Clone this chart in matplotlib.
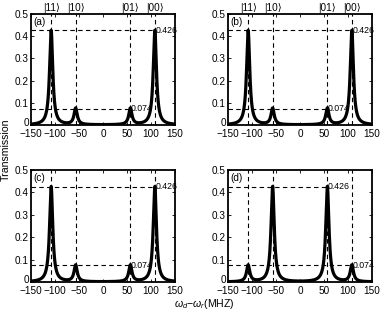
import numpy as np
import matplotlib
matplotlib.use("Agg")
import matplotlib.pyplot as plt
import matplotlib.transforms as mtransforms

plt.rcParams['font.family'] = ['Liberation Sans', 'DejaVu Sans']
plt.rcParams['mathtext.fontset'] = 'custom'
plt.rcParams['mathtext.it'] = 'Liberation Sans:italic'
plt.rcParams['mathtext.rm'] = 'Liberation Sans'

# Data
state_labels = ['|11⟩', '|10⟩', '|01⟩', '|00⟩']
peak_pos = [-108, -57, 57, 108]            # MHz
panel_names = ['(a)', '(b)', '(c)', '(d)']
peak_heights = [
    [0.426, 0.074, 0.074, 0.426],
    [0.426, 0.074, 0.074, 0.426],
    [0.426, 0.074, 0.074, 0.426],
    [0.074, 0.426, 0.426, 0.074],
]
half_width = 4.0  # MHz, Lorentzian HWHM
xticks = [-150, -100, -50, 0, 50, 100, 150]
yticks = [0, 0.1, 0.2, 0.3, 0.4, 0.5]

W, H = 382, 316
fig = plt.figure(figsize=(W / 100, H / 100), dpi=100)

boxes = [(31, 14, 175, 125), (228, 14, 372, 125),
         (31, 170, 175, 282), (228, 170, 372, 282)]

fs = 7.2
x = np.linspace(-150, 150, 3001)
for i, (l, t, r, b) in enumerate(boxes):
    ax = fig.add_axes([l / W, 1 - b / H, (r - l) / W, (b - t) / H])
    hs = peak_heights[i]
    y = np.zeros_like(x)
    for p, h in zip(peak_pos, hs):
        y += h * half_width**2 / ((x - p)**2 + half_width**2)
    for p in peak_pos:
        ax.plot([p, p], [0, 0.5], color='k', lw=0.8, dashes=(4, 3))
    hi = max(hs)
    lo = min(hs)
    if i == 3:
        hi_pos = peak_pos[2]
        lo_pos = peak_pos[3]
    else:
        hi_pos = peak_pos[3]
        lo_pos = peak_pos[2]
    ax.plot([-150, hi_pos], [hi, hi], color='k', lw=0.8, dashes=(4, 3))
    ax.plot([-150, lo_pos], [lo, lo], color='k', lw=0.8, dashes=(4, 3))
    ax.text(hi_pos + 1, hi, f'{hi:.3f}', fontsize=6.3, va='center', ha='left')
    ax.text(lo_pos + 1, lo, f'{lo:.3f}', fontsize=6.3, va='center', ha='left')
    ax.plot(x, y, color='k', lw=2.3, solid_joinstyle='round')
    ax.text(-146, 0.465, panel_names[i], fontsize=fs, va='center', ha='left')
    if i < 2:
        for p, s in zip(peak_pos, state_labels):
            ax.text(p, 0.506, s, fontsize=fs, ha='center', va='bottom', clip_on=False)
    ax.set_xlim(-150, 150)
    ax.set_ylim(0, 0.5)
    ax.set_xticks(xticks)
    ax.set_yticks(yticks)
    ax.set_xticklabels(['\u2212150', '\u2212100', '\u221250', '0', '50', '100', '150'])
    ax.set_yticklabels(['0', '0.1', '0.2', '0.3', '0.4', '0.5'])
    ax.tick_params(direction='in', top=True, right=True, length=2.5, width=0.6,
                   labelsize=fs)
    ax.tick_params(axis='x', pad=3.2)
    ax.tick_params(axis='y', pad=1.5)
    lab0 = ax.get_yticklabels()[0]
    lab0.set_transform(lab0.get_transform() +
                       mtransforms.ScaledTranslation(0, 2.5 / 72, fig.dpi_scale_trans))
    for sp in ax.spines.values():
        sp.set_linewidth(1.3)

fig.text(6 / W, 1 - 150 / H, 'Transmission', rotation=90, fontsize=7.6,
         ha='center', va='center')
fig.text(204 / W, 1 - 304 / H, r'$\omega_d$−$\omega_r$(MHZ)', fontsize=7.6,
         ha='center', va='center')

fig.savefig('out.png', dpi=100)
